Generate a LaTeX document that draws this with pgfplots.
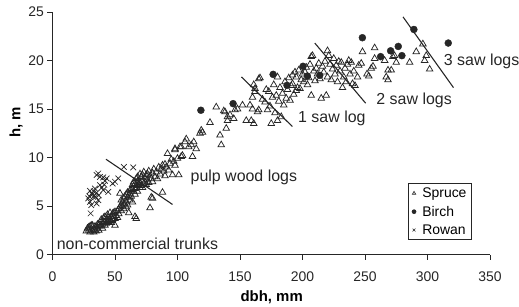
\documentclass[border=0pt]{standalone}
\usepackage{fontspec}
\setmainfont{Liberation Sans}
\usepackage{pgfplots}
\pgfplotsset{compat=1.18}
\definecolor{ink}{HTML}{262626}
\begin{document}
\begin{tikzpicture}
\useasboundingbox (-52.5bp,-52.5bp) rectangle (466.5bp,254.5bp);
\begin{axis}[
  at={(0,0)}, anchor=south west,
  scale only axis, width=437.5bp, height=242.5bp,
  xmin=0, xmax=350, ymin=0, ymax=25,
  xtick={0,50,...,350}, ytick={0,5,...,25},
  axis x line*=bottom, axis y line*=left,
  axis line style={line width=0.9pt, ink},
  tick align=outside, major tick length=5bp,
  tick style={line width=0.9pt, ink},
  /pgf/number format/assume math mode=true,
  ticklabel style={font=\fontsize{14}{16}\selectfont, text=ink},
  xticklabel style={yshift=-9bp},
  xlabel={\textbf{dbh, mm}}, ylabel={\textbf{h, m}},
  xlabel style={font=\fontsize{15}{17}\selectfont, at={(axis description cs:0.501,-0.175)}, anchor=center},
  ylabel style={font=\fontsize{15}{17}\selectfont, at={(axis description cs:-0.0834,0.545)}, anchor=center},
  clip=false,
  legend image code/.code={\path (0,0) (8.4bp,0); \draw[#1, mark size=2pt, line width=0.6pt] plot coordinates {(2.5bp,0)};},
  legend style={at={(axis cs:284.3,7.33)}, anchor=north west, draw=ink, line width=0.6pt,
    font=\fontsize{14}{16}\selectfont, row sep=3bp, legend cell align=left},
]
\addplot[only marks, mark=triangle, mark size=3.8pt, draw=ink, line width=0.75pt] coordinates {
(27,2.4)(28,2.7)(29,2.5)(30,2.9)(30,2.3)(31,2.6)(32,2.4)(32,3.0)(33,2.6)(34,2.5)(34,2.9)(35,2.4)(36,2.7)(36,3.1)(37,2.5)(38,3.3)(38,2.9)(39,3.6)(40,3.1)(40,2.7)
(29,2.8)(31,3.0)(33,2.3)(35,2.8)(37,3.0)(39,3.0)(41,3.8)(43,3.2)(45,3.4)(47,3.3)(49,4.3)(53,4.7)(55,5.1)(57,5.2)(59,6.2)(62,6.3)(64,6.7)(66,6.8)(68,7.5)(72,8.2)(74,7.5)(76,8.3)
(41,3.4)(42,3.9)(42,3.0)(43,3.6)(44,4.1)(44,3.3)(45,3.8)(46,3.5)(46,4.3)(47,3.9)(48,4.2)(48,3.6)(49,3.9)(50,3.0)(50,4.4)(50,3.7)
(51,4.0)(52,4.5)(52,3.8)(53,4.2)(54,6.3)(54,4.9)(55,5.6)(55,4.5)(56,5.0)(56,5.4)(57,5.8)(57,4.7)(58,5.2)(58,6.0)(59,5.5)(59,4.9)(60,5.9)(60,6.4)(60,5.1)
(61,6.1)(61,4.3)(62,6.6)(62,5.6)(63,6.8)(63,6.0)(64,7.2)(64,5.4)(65,6.5)(65,7.5)(66,3.9)(66,7.3)(66,6.2)(67,3.7)(67,7.8)(67,6.9)(68,7.1)(68,8.0)(68,6.5)(69,7.6)(69,7.2)(70,8.3)(70,6.9)(70,7.4)
(71,7.1)(71,8.0)(72,7.6)(72,6.9)(73,8.5)(73,7.3)(74,7.9)(75,7.2)(75,8.2)(76,7.7)(77,8.6)(77,7.4)(78,4.8)(78,8.1)(79,5.9)(79,7.8)(80,5.8)(80,8.4)(80,7.5)
(81,8.8)(82,8.0)(83,8.5)(84,7.8)(85,9.0)(86,8.3)(87,8.8)(88,6.4)(88,9.2)(89,8.6)(90,9.3)(90,8.1)(91,9.0)(92,10.4)(93,8.7)(94,9.4)(95,9.8)(96,8.2)(97,9.6)(98,10.8)(98,9.2)(100,9.9)(101,8.2)(102,11.1)(103,10.1)(104,10.2)
(106,11.6)(107,11.9)(111,11.3)(112,10.1)(115,10.9)(118,12.5)(119,12.8)(120,12.6)(126,13.6)(131,15.2)(134,12.3)(135,11.3)(137,14.8)(138,14.7)(139,13.0)(140,13.8)(140,14.2)(142,14.4)(145,14.0)(146,14.9)(148,15.0)(152,15.4)(109,11.1)(98,10.9)(103,11.1)(113,11.6)
(155,13.8)(158,15.4)(159,13.8)(160,15.0)(160,16.2)(161,17.5)(161,13.5)(162,17.1)(162,16.8)(164,14.7)(165,14.9)(165,18.1)(166,18.2)(168,16.0)(170,15.7)(171,17.0)(172,14.9)(173,16.8)(174,15.3)(175,13.5)(176,16.2)(177,17.5)(178,14.6)(179,16.4)(180,13.8)(180,18.3)(181,15.8)(182,17.2)(183,14.2)(184,16.6)(185,15.4)(186,17.8)(187,16.1)(188,17.0)(189,18.2)(190,15.9)(191,17.4)(192,18.5)(192,17.6)(193,16.5)(194,18.8)(195,16.9)(195,18.3)(196,17.2)(197,19.0)(198,17.1)(199,18.0)
(200,18.6)(201,17.8)(202,18.8)(203,19.3)(204,17.5)(205,18.2)(206,19.6)(207,16.4)(207,20.4)(208,20.5)(209,18.9)(210,17.9)(211,19.2)(212,18.6)(213,19.7)(214,18.1)(215,16.1)(216,19.4)(217,18.8)(218,19.9)(219,16.4)(220,21.0)(220,18.3)(221,20.5)(222,19.6)(223,18.0)(224,19.1)(225,20.2)(226,18.6)(227,19.5)(228,17.8)(229,19.9)(230,18.9)(231,19.8)(232,17.2)(233,18.3)(234,19.2)(235,17.8)(236,19.6)(237,20.0)(238,18.6)(239,19.8)(240,17.6)(241,18.9)(242,17.4)(244,18.3)(245,19.5)(247,19.7)(248,20.9)
(251.6,18.6)(253,18.4)(255,19.2)(256.4,19.4)(257.7,20.2)(257.7,21.3)(265.7,20.0)(267,18.3)(268.4,18.0)(268.4,19.0)(271,19.0)(272.3,20.4)(273.6,20.5)(275,19.8)(285.7,19.8)(291,20.9)(296.3,21.7)(297.7,20.0)(299,20.5)(301.7,19.1)
};
\addlegendentry{Spruce}
\addplot[only marks, mark=*, mark size=3.5pt, draw=ink, fill=ink] coordinates {
(118.7,14.87)(144.5,15.55)(176.5,18.57)(187.6,17.44)(200.4,19.4)(203.9,18.4)(213.8,18.47)(247.9,22.35)(262.5,20.4)(270.5,21.0)(276.6,21.45)(279.5,20.5)(289.1,23.2)(316.6,21.8)
};
\addlegendentry{Birch}
\addplot[only marks, mark=x, mark size=4pt, draw=ink, line width=0.7pt] coordinates {
(57.1,9.03)(64.6,8.97)(36.6,8.35)(35.3,8.2)(38,8.0)(40.6,7.94)(43.3,7.84)(42,7.6)(50,7.5)(52.6,7.84)(48.1,7.32)(38,7.15)(40.6,6.64)(44.6,6.46)(30,6.56)(31.3,6.3)(32.6,5.95)(28.6,5.78)(30,5.43)(36.6,5.6)(35.3,5.26)(30.5,4.24)(34,6.8)(35.3,6.36)(34.5,5.95)(41.4,7.2)(32,6.2)(33,6.5)(29.5,6.0)(37,6.1)(39.5,6.9)(31,5.1)
};
\addlegendentry{Rowan}
\addplot[ink, line width=1.1pt, forget plot] coordinates {(42.8,9.82)(96,5.16)};
\addplot[ink, line width=1.1pt, forget plot] coordinates {(151.2,18.3)(191.9,13.2)};
\addplot[ink, line width=1.1pt, forget plot] coordinates {(209.8,21.8)(250.5,15.6)};
\addplot[ink, line width=1.1pt, forget plot] coordinates {(280.4,24.5)(320.8,17.2)};
\node[anchor=west, inner sep=0, font=\fontsize{16}{18}\selectfont, text=ink] at (axis cs:110.4,8.0) {pulp wood logs};
\node[anchor=west, inner sep=0, font=\fontsize{16}{18}\selectfont, text=ink] at (axis cs:196.4,14.0) {1 saw log};
\node[anchor=west, inner sep=0, font=\fontsize{16}{18}\selectfont, text=ink] at (axis cs:259,15.9) {2 saw logs};
\node[anchor=west, inner sep=0, font=\fontsize{16}{18}\selectfont, text=ink] at (axis cs:313,19.9) {3 saw logs};
\node[anchor=west, inner sep=0, font=\fontsize{16}{18}\selectfont, text=ink] at (axis cs:3.3,1.15) {non-commercial trunks};
\end{axis}
\end{tikzpicture}
\end{document}
